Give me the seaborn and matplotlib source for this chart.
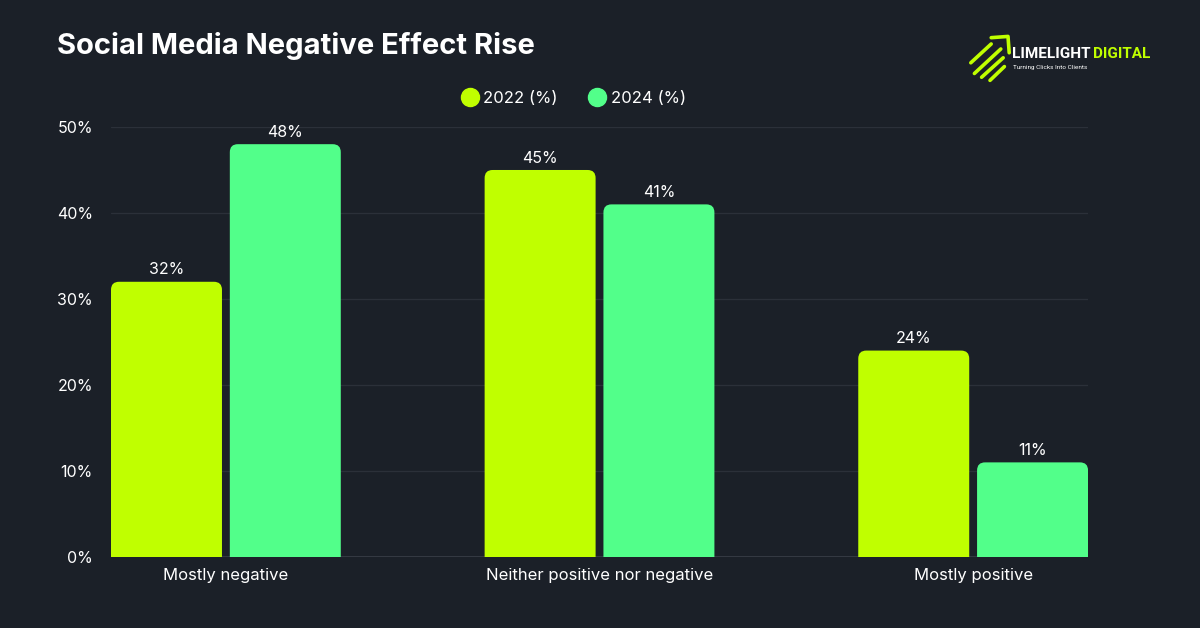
import matplotlib
matplotlib.use("Agg")
import matplotlib.pyplot as plt
import seaborn as sns
import pandas as pd
from matplotlib.patches import FancyBboxPatch
from matplotlib.lines import Line2D

categories = ["Mostly negative", "Neither positive nor negative", "Mostly positive"]
series_names = ["2022 (%)", "2024 (%)"]
values_2022 = [32, 45, 24]
values_2024 = [48, 41, 11]
yticks = [0, 10, 20, 30, 40, 50]
ytick_labels = ["0%", "10%", "20%", "30%", "40%", "50%"]

BG = "#1b2028"
LIME = "#c0ff00"
GREEN = "#52ff8a"
WHITE = "#ffffff"
GRID = "#2b3039"

df = pd.DataFrame({
    "category": categories * 2,
    "series": [series_names[0]] * 3 + [series_names[1]] * 3,
    "value": values_2022 + values_2024,
})

sns.set_theme(style="dark")
plt.rcParams["font.family"] = ["Inter", "DejaVu Sans"]

fig = plt.figure(figsize=(12, 6.28), dpi=100, facecolor=BG)
ax = fig.add_axes([0.0925, 0.1131, 0.8142, 0.6847])
ax.set_facecolor(BG)

sns.barplot(data=df, x="category", y="value", hue="series", order=categories,
            hue_order=series_names, palette=[LIME, GREEN], width=0.636, gap=0.066,
            ax=ax, legend=False, saturation=1)

ax.set_xlim(-0.3075, 2.3075)
ax.set_ylim(0, 50)

# Rounded-top bars
x_per_px = (2.3075 + 0.3075) / (0.8142 * 1200)
y_per_px = 50 / (0.6847 * 628)
r_x = 8 * x_per_px
aspect = y_per_px / x_per_px
bars = list(ax.patches)
for p in bars:
    x, w, h = p.get_x(), p.get_width(), p.get_height()
    fc = p.get_facecolor()
    p.set_visible(False)
    fb = FancyBboxPatch((x, -5), w, h + 5,
                        boxstyle=f"round,pad=0,rounding_size={r_x}",
                        mutation_aspect=aspect, facecolor=fc, edgecolor="none",
                        zorder=3, clip_on=True)
    ax.add_patch(fb)
    ax.text(x + w / 2, h + 0.5, f"{int(round(h))}%", ha="center", va="bottom",
            color=WHITE, fontsize=11.5, zorder=4, clip_on=False)

ax.set_yticks(yticks)
ax.set_yticklabels(ytick_labels, color=WHITE, fontsize=11.5)
ax.set_xticks(range(len(categories)))
ax.set_xticklabels(categories, color=WHITE, fontsize=12)
ax.tick_params(axis="y", length=0, pad=13)
ax.tick_params(axis="x", length=0, pad=8)
ax.set_xlabel("")
ax.set_ylabel("")
for yy in yticks[1:]:
    ax.axhline(yy, color=GRID, lw=0.9, zorder=0)
ax.axhline(0, color="#3a3f48", lw=1.2, zorder=2)
for s in ax.spines.values():
    s.set_visible(False)
ax.grid(False)

# Legend
handles = [Line2D([], [], marker="o", ls="", markersize=13, markerfacecolor=c,
                  markeredgecolor=c) for c in [LIME, GREEN]]
fig.legend(handles, series_names, loc="center", bbox_to_anchor=(0.478, 0.843),
           ncol=2, frameon=False, fontsize=12, labelcolor=WHITE,
           handletextpad=0.3, columnspacing=1.9, handlelength=1.0)

# Title
fig.text(0.0475, 0.927, "Social Media Negative Effect Rise", color=WHITE,
         fontsize=21, fontweight="bold", ha="left", va="center")

# Logo
t1 = fig.text(0.8435, 0.914, "LIMELIGHT", color=WHITE, fontsize=11, fontweight="bold",
              ha="left", va="center", family=["Roboto", "DejaVu Sans"])
ax.annotate("DIGITAL", xy=(1, 0.5), xycoords=t1, xytext=(2, 0),
            textcoords="offset points", color=LIME, fontsize=11, fontweight="bold",
            ha="left", va="center", family=["Roboto", "DejaVu Sans"],
            annotation_clip=False)
fig.text(0.8445, 0.893, "Turning Clicks Into Clients", color=WHITE, fontsize=4.6,
         ha="left", va="center", family=["Roboto", "DejaVu Sans"])
for (x0, y0, x1, y1) in [(0.812, 0.883, 0.834, 0.922), (0.818, 0.877, 0.836, 0.908),
                         (0.825, 0.872, 0.837, 0.894), (0.809, 0.900, 0.826, 0.930)]:
    fig.add_artist(Line2D([x0, x1], [y0, y1], color=LIME, lw=2.6,
                          solid_capstyle="round", transform=fig.transFigure))
fig.add_artist(Line2D([0.826, 0.840, 0.841], [0.940, 0.942, 0.916], color=LIME, lw=2.6,
                      transform=fig.transFigure, solid_joinstyle="round"))

fig.savefig("out.png", dpi=100, facecolor=BG)
